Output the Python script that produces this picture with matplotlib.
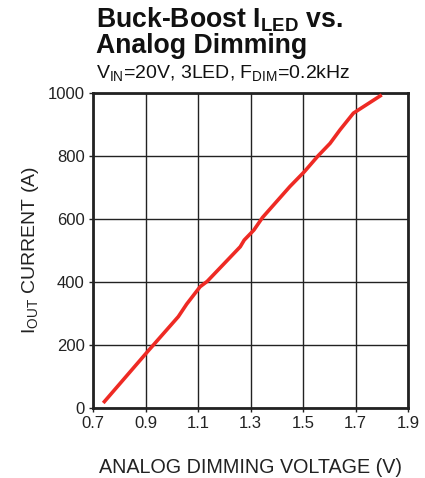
import matplotlib
matplotlib.use("Agg")
import matplotlib.pyplot as plt

plt.rcParams['font.family'] = ['Liberation Sans', 'DejaVu Sans']
plt.rcParams['mathtext.fontset'] = 'custom'
plt.rcParams['mathtext.rm'] = 'Liberation Sans'
plt.rcParams['mathtext.it'] = 'Liberation Sans:italic'
plt.rcParams['mathtext.bf'] = 'Liberation Sans:bold'

voltage = [0.739, 0.913, 0.93, 1.025, 1.057, 1.108, 1.135, 1.261, 1.276, 1.313, 1.346, 1.45, 1.505, 1.558, 1.603, 1.641, 1.692, 1.80]
current = [16, 184, 200, 290, 330, 385, 402, 512, 533, 565, 605, 703, 750, 801, 840, 883, 936, 994]
xticks = [0.7, 0.9, 1.1, 1.3, 1.5, 1.7, 1.9]
yticks = [0, 200, 400, 600, 800, 1000]

W, H = 425, 478
fig = plt.figure(figsize=(W/100, H/100), dpi=100)
ax = fig.add_axes([93/W, 1-408/H, 315/W, 315/H])

ax.plot(voltage, current, color='#ee2a24', lw=2.6, solid_capstyle='butt', zorder=3)
ax.set_xlim(0.7, 1.9)
ax.set_ylim(0, 1000)
ax.set_xticks(xticks)
ax.set_xticklabels([f"{v:.1f}" for v in xticks])
ax.set_yticks(yticks)
ax.grid(True, color='#222222', lw=1.0)
ax.tick_params(axis='both', labelsize=12, length=3, width=1, color='#222222', labelcolor='#222222', pad=3)
for s in ax.spines.values():
    s.set_linewidth(2)
    s.set_color('#222222')

ax.set_xlabel('ANALOG DIMMING VOLTAGE (V)', fontsize=14.2, color='#222222', labelpad=19)
ax.set_ylabel(r'I$_{\mathrm{OUT}}$ CURRENT (A)', fontsize=14, color='#222222', labelpad=5)

fig.text(96/W, 1-28/H, r'Buck-Boost I$_{\mathbf{LED}}$ vs.', fontsize=19.2, fontweight='bold', va='baseline', ha='left', color='#111111')
fig.text(96/W, 1-53/H, 'Analog Dimming', fontsize=19.2, fontweight='bold', va='baseline', ha='left', color='#111111')
fig.text(96/W, 1-78/H, r'V$_{\mathrm{IN}}$=20V, 3LED, F$_{\mathrm{DIM}}$=0.2kHz', fontsize=14, va='baseline', ha='left', color='#111111')

fig.savefig('out.png', dpi=100)
